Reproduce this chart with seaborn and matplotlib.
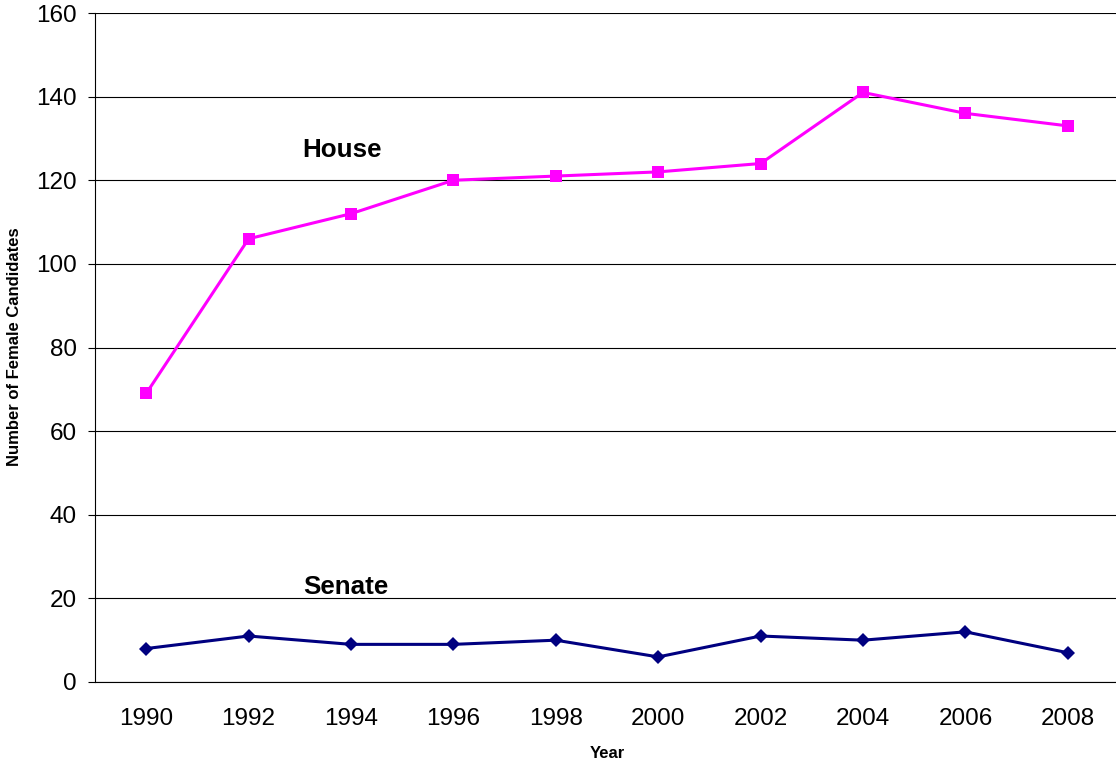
import matplotlib
matplotlib.use("Agg")
import matplotlib.pyplot as plt
import numpy as np
import pandas as pd
import seaborn as sns

years = ["1990", "1992", "1994", "1996", "1998", "2000", "2002", "2004", "2006", "2008"]
house = [69, 106, 112, 120, 121, 122, 124, 141, 136, 133]
senate = [8, 11, 9, 9, 10, 6, 11, 10, 12, 7]

sns.set_style("white")
plt.rcParams["font.family"] = ["Liberation Sans", "DejaVu Sans"]
plt.rcParams.update({
    "text.color": "black",
    "axes.labelcolor": "black",
    "xtick.color": "black",
    "ytick.color": "black",
})

df = pd.DataFrame({"Year": years, "House": house, "Senate": senate})

fig = plt.figure(figsize=(11.16, 7.68), dpi=100)
ax = fig.add_axes([95 / 1116, 1 - 682 / 768, (1119 - 95) / 1116, (682 - 13) / 768])

sns.lineplot(data=df, x="Year", y="House", ax=ax, color="#FF00FF", linewidth=2.2,
             marker="s", markersize=8.8, markeredgewidth=0, sort=False)
sns.lineplot(data=df, x="Year", y="Senate", ax=ax, color="#000080", linewidth=2.2,
             marker="D", markersize=7.4, markeredgewidth=0, sort=False)

ax.set_xlim(-0.5, len(years) - 0.5)
ax.set_ylim(0, 160)
ax.set_yticks(np.arange(0, 161, 20))
ax.yaxis.grid(True, color="black", linewidth=0.8)
ax.set_axisbelow(True)

# category labels sit between boundary tick marks
ax.set_xticks(np.arange(len(years)))
ax.set_xticklabels(years)
ax.set_xticks(np.arange(len(years) + 1) - 0.5, minor=True)
ax.tick_params(axis="x", which="major", length=0, pad=19, labelsize=17.5)
ax.tick_params(axis="x", which="minor", length=5, width=0.8, direction="out", color="black")
ax.tick_params(axis="y", which="major", length=5, width=0.8, direction="out", color="black",
               pad=8, labelsize=17.5, left=True)

for side in ["top", "right"]:
    ax.spines[side].set_visible(False)
for side in ["left", "bottom"]:
    ax.spines[side].set_color("black")
    ax.spines[side].set_linewidth(0.8)

ax.set_xlabel("")
ax.set_ylabel("")
fig.text(607 / 1116, 1 - 753 / 768, "Year", ha="center", va="center",
         fontsize=12, fontweight="bold")
fig.text(15 / 1116, 1 - 347 / 768, "Number of Female Candidates", ha="center", va="center",
         rotation=90, fontsize=12, fontweight="bold")

ax.text(1.91, 127.3, "House", ha="center", va="center", fontsize=18.7, fontweight="bold")
ax.text(1.95, 22.8, "Senate", ha="center", va="center", fontsize=18.7, fontweight="bold")

fig.savefig("out.png", dpi=100)
